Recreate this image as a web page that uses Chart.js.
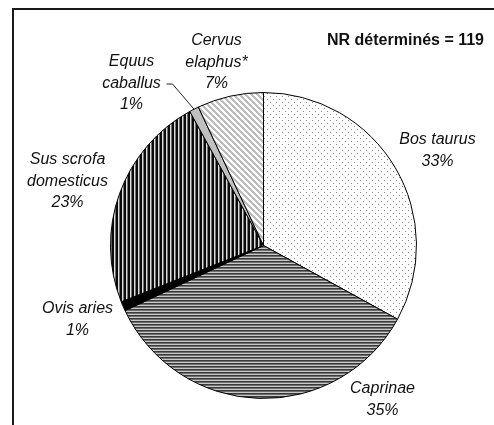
<!DOCTYPE html>
<html>
<head>
<meta charset="utf-8">
<script src="https://cdn.jsdelivr.net/npm/chart.js@4.4.0/dist/chart.umd.min.js"></script>
<style>
  html, body { margin: 0; padding: 0; background: #fff; }
  #wrap { position: relative; width: 494px; height: 425px; }
</style>
</head>
<body>
<div id="wrap"><canvas id="chartNR" width="494" height="425"></canvas></div>
<script>
// données (pourcentages du NR déterminé)
const especes = ['Bos taurus', 'Caprinae', 'Ovis aries', 'Sus scrofa domesticus', 'Equus caballus', 'Cervus elaphus*'];
const lignesEtiquettes = [
    ['Bos taurus'],
    ['Caprinae'],
    ['Ovis aries'],
    ['Sus scrofa', 'domesticus'],
    ['Equus', 'caballus'],
    ['Cervus', 'elaphus*'],
];
const pourcentages = [33, 35, 1, 23, 1, 7];
const titreNR = 'NR déterminés = 119';

// position des étiquettes par rapport au centre du camembert (px)
const decalages = [[174, -95], [119, 154], [-186, 74], [-196, -64], [-132, -162], [-47, -183]];
const interligne = 21.5;

function motif(w, h, dessin) {
    const c = document.createElement('canvas');
    c.width = w; c.height = h;
    const x = c.getContext('2d');
    dessin(x);
    return x.createPattern(c, 'repeat');
}

const motifPoints = motif(6, 6, (x) => {
    x.fillStyle = '#fff'; x.fillRect(0, 0, 6, 6);
    x.fillStyle = '#8a8a8a'; x.fillRect(0, 0, 1, 1); x.fillRect(3, 3, 1, 1);
});
const motifHoriz = motif(1, 3, (x) => {
    x.fillStyle = '#3a3a3a'; x.fillRect(0, 0, 1, 1);
    x.fillStyle = '#6e6e6e'; x.fillRect(0, 1, 1, 1);
    x.fillStyle = '#c8c8c8'; x.fillRect(0, 2, 1, 1);
});
const motifVert = motif(4, 1, (x) => {
    x.fillStyle = '#0a0a0a'; x.fillRect(0, 0, 2, 1);
    x.fillStyle = '#e0e0e0'; x.fillRect(2, 0, 1, 1);
    x.fillStyle = '#707070'; x.fillRect(3, 0, 1, 1);
});
const motifDiag = motif(6, 6, (x) => {
    x.fillStyle = '#fff'; x.fillRect(0, 0, 6, 6);
    x.fillStyle = '#bdbdbd';
    for (let yy = 0; yy < 6; yy++) {
        for (let k = 0; k < 3; k++) x.fillRect((yy + k) % 6, yy, 1, 1);
    }
});
const remplissages = [motifPoints, motifHoriz, '#000000', motifVert, '#c0c0c0', motifDiag];

const cadre = {
    id: 'cadre',
    beforeDraw(chart) {
        const ctx = chart.ctx;
        ctx.save();
        ctx.strokeStyle = '#1a1a1a';
        ctx.lineWidth = 2;
        ctx.beginPath();
        ctx.moveTo(13, chart.height + 5);
        ctx.lineTo(13, 9);
        ctx.lineTo(chart.width + 5, 9);
        ctx.stroke();
        ctx.restore();
    }
};

const etiquettes = {
    id: 'etiquettes',
    afterDraw(chart) {
        const ctx = chart.ctx;
        const arcs = chart.getDatasetMeta(0).data;
        ctx.save();
        ctx.fillStyle = '#111';
        ctx.textAlign = 'center';
        ctx.textBaseline = 'middle';
        ctx.font = 'italic 16px "Liberation Sans", Arial, sans-serif';
        arcs.forEach((arc, i) => {
            const lignes = lignesEtiquettes[i].concat([pourcentages[i] + '%']);
            const cx = arc.x + decalages[i][0];
            const cy = arc.y + decalages[i][1];
            const y0 = cy - (lignes.length - 1) * interligne / 2;
            lignes.forEach((t, j) => ctx.fillText(t, cx, y0 + j * interligne));
        });

        // trait de rappel pour Equus caballus
        const eq = arcs[4];
        const mid = (eq.startAngle + eq.endAngle) / 2;
        const bx = eq.x + Math.cos(mid) * eq.outerRadius;
        const by = eq.y + Math.sin(mid) * eq.outerRadius;
        const lx = eq.x + decalages[4][0] + 35;
        const ly = eq.y + decalages[4][1];
        ctx.strokeStyle = '#222';
        ctx.lineWidth = 1;
        ctx.beginPath();
        ctx.moveTo(lx, ly + 0.5);
        ctx.lineTo(lx + 6, ly + 0.5);
        ctx.lineTo(bx, by);
        ctx.stroke();

        ctx.font = 'bold 16px "Liberation Sans", Arial, sans-serif';
        ctx.textAlign = 'right';
        ctx.fillText(titreNR, 484, 41);
        ctx.restore();
    }
};

new Chart(document.getElementById('chartNR'), {
    type: 'pie',
    data: {
        labels: especes,
        datasets: [{
            data: pourcentages,
            backgroundColor: remplissages,
            borderColor: '#000',
            borderWidth: 1,
        }],
    },
    options: {
        responsive: false,
        animation: false,
        layout: { padding: { top: 92, bottom: 26, left: 110, right: 77 } },
        plugins: { legend: { display: false }, tooltip: { enabled: false } },
    },
    plugins: [cadre, etiquettes],
});
</script>
</body>
</html>
